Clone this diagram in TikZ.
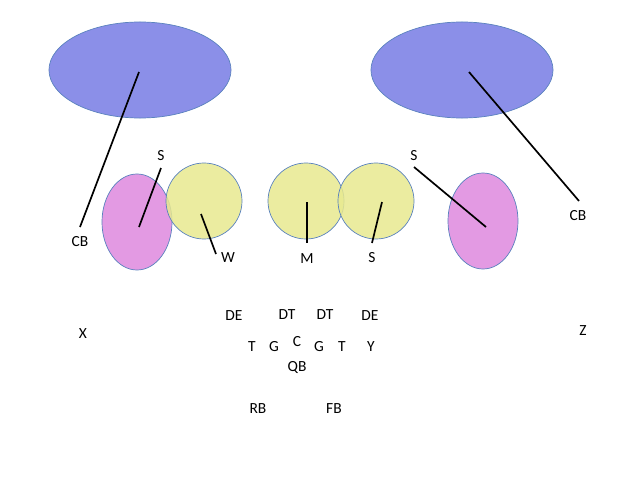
\documentclass[tikz,border=0pt]{standalone}
\usepackage{fontspec}
\setmainfont{Carlito}
\usepackage{xcolor}
\usepackage{tikz}
\usetikzlibrary{shapes.geometric, positioning}

\definecolor{zoneblue}{RGB}{139,143,232}
\definecolor{zonepink}{RGB}{227,154,227}
\definecolor{zoneyellow}{RGB}{231,233,143}
\definecolor{zoneedge}{RGB}{90,130,190}

\tikzset{
  zone/.style={ellipse, draw=zoneedge, line width=0.5pt, inner sep=0pt},
  deep/.style={zone, fill=zoneblue, minimum width=4.55cm, minimum height=2.4cm},
  flat/.style={zone, fill=zonepink, minimum width=1.75cm, minimum height=2.4cm},
  hook/.style={zone, fill=zoneyellow, fill opacity=0.85, minimum width=1.9cm, minimum height=1.9cm},
  player/.style={font=\fontsize{11}{13}\selectfont, inner sep=1pt},
  drop/.style={draw=black, line width=1.2pt},
}

\begin{document}
\begin{tikzpicture}[x=0.025cm, y=-0.025cm]
  \useasboundingbox (0,0) rectangle (640,480);

  % coverage zones
  \node[deep] (deepL) at (140,70) {};
  \node[deep] (deepR) at (462,70) {};
  \node[flat] (flatL) at (137,222) {};
  \node[flat] (flatR) at (483,221) {};
  \node[hook] (hookW) at (204,201) {};
  \node[hook] (hookM) at (306,201) {};
  \node[hook] (hookS) at (376,201) {};

  % defenders
  \node[player] (cbL) at (80,242) {CB};
  \node[player] (sL) at (161,156) {S};
  \node[player] (w) at (228,258) {W};
  \node[player] (m) at (307,259) {M};
  \node[player] (sM) at (372,258) {S};
  \node[player] (sR) at (414,156) {S};
  \node[player] (cbR) at (578,216) {CB};

  % line ends
  \coordinate (cbLa) at (139,72);   \coordinate (cbLb) at (80,227);
  \coordinate (sLa) at (139,227);   \coordinate (sLb) at (161,168);
  \coordinate (wa) at (201,214);    \coordinate (wb) at (216,254);
  \coordinate (ma) at (307,202);    \coordinate (mb) at (307,243);
  \coordinate (sMa) at (382,202);   \coordinate (sMb) at (372,243);
  \coordinate (sRa) at (486,227);   \coordinate (sRb) at (414,167);
  \coordinate (cbRa) at (469,72);   \coordinate (cbRb) at (579,201);

  \draw[drop] (cbLa) -- (cbLb);
  \draw[drop] (sLa) -- (sLb);
  \draw[drop] (wa) -- (wb);
  \draw[drop] (ma) -- (mb);
  \draw[drop] (sMa) -- (sMb);
  \draw[drop] (sRa) -- (sRb);
  \draw[drop] (cbRa) -- (cbRb);

  % front and offense
  \node[player] (deL) at (234,316) {DE};
  \node[player] (dtL) at (287,315) {DT};
  \node[player] (dtR) at (325,315) {DT};
  \node[player] (deR) at (370,316) {DE};
  \node[player] (tL) at (252,347) {T};
  \node[player] (gL) at (274,347) {G};
  \node[player] (c) at (297,342) {C};
  \node[player] (gR) at (319,347) {G};
  \node[player] (tR) at (342,347) {T};
  \node[player] (y) at (371,347) {Y};
  \node[player] (qb) at (297,368) {QB};
  \node[player] (rb) at (258,409) {RB};
  \node[player] (fb) at (334,409) {FB};
  \node[player] (x) at (83,334) {X};
  \node[player] (z) at (583,331) {Z};
\end{tikzpicture}
\end{document}
